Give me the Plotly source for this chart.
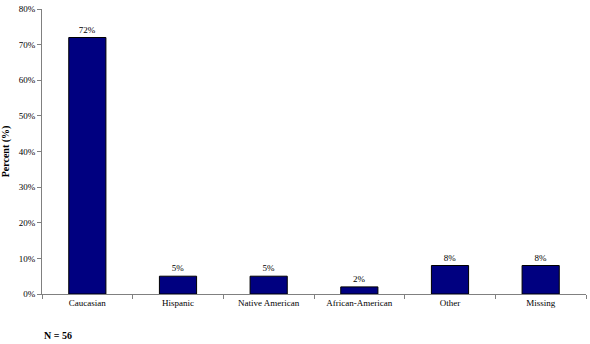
import plotly.graph_objects as go

categories = ["Caucasian", "Hispanic", "Native American", "African-American", "Other", "Missing"]
values = [72, 5, 5, 2, 8, 8]
labels = ["72%", "5%", "5%", "2%", "8%", "8%"]
tick_vals = [0, 10, 20, 30, 40, 50, 60, 70, 80]
tick_text = ["0%", "10%", "20%", "30%", "40%", "50%", "60%", "70%", "80%"]

font = "Times New Roman, Liberation Serif, serif"

fig = go.Figure(go.Bar(
    x=categories, y=values, text=labels, textposition="outside",
    textfont=dict(family=font, size=9, color="#000000"),
    marker=dict(color="#000080", line=dict(color="#000000", width=1)),
    width=0.41, cliponaxis=False,
))

fig.update_layout(
    width=590, height=344,
    margin=dict(l=40, r=4, t=6, b=50),
    paper_bgcolor="white", plot_bgcolor="white",
    showlegend=False,
    font=dict(family=font, size=9, color="#000000"),
    xaxis=dict(
        type="category", tickson="boundaries", ticks="outside", ticklen=4,
        tickcolor="#808080", showline=True, linecolor="#808080", linewidth=1,
        showgrid=False, tickfont=dict(family=font, size=9), range=[-0.5, 5.5],
    ),
    yaxis=dict(
        range=[0, 80], tickvals=tick_vals, ticktext=tick_text,
        ticks="outside", ticklen=4, tickcolor="#808080",
        showline=True, linecolor="#808080", linewidth=1, showgrid=False,
        zeroline=False, tickfont=dict(family=font, size=9),
        title=dict(text="<b>Percent (%)</b>", font=dict(family=font, size=10), standoff=8),
    ),
    annotations=[dict(
        text="<b>N = 56</b>", x=0, y=-0.145, xref="paper", yref="paper",
        xanchor="left", yanchor="middle", showarrow=False,
        font=dict(family=font, size=10),
    )],
)

fig.write_html("out.html")
